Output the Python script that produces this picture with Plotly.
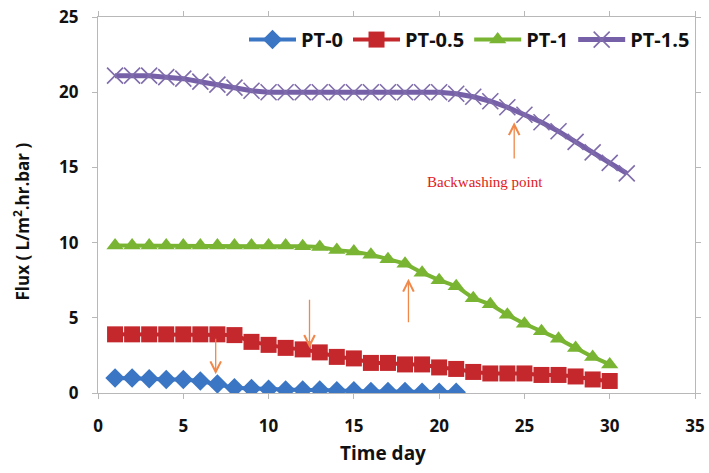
import plotly.graph_objects as go

days_pt0 = list(range(1, 22))
pt0 = [1.0, 1.0, 0.95, 0.9, 0.9, 0.8, 0.6, 0.35, 0.3, 0.25, 0.2, 0.2, 0.2, 0.15, 0.15,
       0.1, 0.1, 0.1, 0.05, 0.05, 0.05]

days_pt05 = list(range(1, 31))
pt05 = [3.9, 3.9, 3.9, 3.9, 3.9, 3.9, 3.9, 3.85, 3.4, 3.2, 3.0, 2.9, 2.7, 2.4, 2.3,
        2.0, 2.0, 1.9, 1.9, 1.7, 1.6, 1.4, 1.3, 1.3, 1.3, 1.2, 1.2, 1.1, 0.9, 0.8]

days_pt1 = list(range(1, 31))
pt1 = [9.8, 9.8, 9.8, 9.8, 9.8, 9.8, 9.8, 9.8, 9.8, 9.8, 9.8, 9.75, 9.7, 9.5, 9.4,
       9.2, 8.9, 8.6, 8.0, 7.5, 7.1, 6.3, 5.9, 5.2, 4.6, 4.1, 3.6, 3.0, 2.4, 1.9]

days_pt15 = list(range(1, 32))
pt15 = [21.1, 21.1, 21.1, 21.0, 20.9, 20.7, 20.5, 20.3, 20.1, 20.0, 20.0, 20.0, 20.0,
        20.0, 20.0, 20.0, 20.0, 20.0, 20.0, 20.0, 19.9, 19.7, 19.4, 19.0, 18.5, 18.0,
        17.4, 16.7, 16.0, 15.3, 14.6]

series_names = ["PT-0", "PT-0.5", "PT-1", "PT-1.5"]

# arrows: (x, tip y, tail y)
arrow_x = [6.9, 12.4, 18.2, 24.4]
arrow_tip = [1.25, 3.0, 7.6, 18.0]
arrow_tail = [3.7, 6.3, 4.6, 15.5]

x_ticks = [0, 5, 10, 15, 20, 25, 30, 35]
y_ticks = [0, 5, 10, 15, 20, 25]

FONT = "Open Sans"

fig = go.Figure()
fig.add_trace(go.Scatter(x=days_pt0, y=pt0, name=series_names[0], mode="lines+markers",
                         line=dict(color="#3a76c4", width=4),
                         marker=dict(symbol="diamond", size=15, color="#3a76c4")))
fig.add_trace(go.Scatter(x=days_pt05, y=pt05, name=series_names[1], mode="lines+markers",
                         line=dict(color="#c4272c", width=4),
                         marker=dict(symbol="square", size=16, color="#c4272c")))
fig.add_trace(go.Scatter(x=days_pt1, y=pt1, name=series_names[2], mode="lines+markers",
                         line=dict(color="#79b532", width=4),
                         marker=dict(symbol="triangle-up", size=15, color="#79b532")))
fig.add_trace(go.Scatter(x=days_pt15, y=pt15, name=series_names[3], mode="lines+markers",
                         line=dict(color="#7660a8", width=5),
                         marker=dict(symbol="x-thin", size=16, color="#7f6cab",
                                     line=dict(color="#7f6cab", width=1.6))))

for ax_, tip, tail in zip(arrow_x, arrow_tip, arrow_tail):
    fig.add_annotation(x=ax_, y=tip, ax=ax_, ay=tail, xref="x", yref="y",
                       axref="x", ayref="y", showarrow=True, arrowhead=5,
                       arrowsize=1.6, arrowwidth=1.3, arrowcolor="#f0884a", text="")

fig.add_annotation(x=22.7, y=14.0, xref="x", yref="y", text="Backwashing point",
                   showarrow=False, font=dict(family="Liberation Serif", size=15, color="#e0201c"))

fig.add_annotation(x=0.478, y=-0.16, xref="paper", yref="paper", text="Time day",
                   showarrow=False, yanchor="middle",
                   font=dict(family=FONT, size=19, color="#111111", weight="bold"))
fig.add_annotation(x=-0.128, y=0.455, xref="paper", yref="paper",
                   text="Flux ( L/m<sup>2</sup>.hr.bar )", textangle=-90,
                   showarrow=False, xanchor="center", yanchor="middle",
                   font=dict(family=FONT, size=17, color="#111111", weight="bold"))

axis_common = dict(showgrid=False, zeroline=False, showline=True, linecolor="#b8b8b8",
                   linewidth=1.2, mirror="ticks", ticks="outside", ticklen=5,
                   tickcolor="#b8b8b8", automargin=False,
                   tickfont=dict(family=FONT, size=17, color="#111111", weight="bold"))

fig.update_xaxes(range=[0, 35], tickvals=x_ticks, ticklabelstandoff=12, **axis_common)
fig.update_yaxes(range=[0, 25], tickvals=y_ticks, ticklabelstandoff=10, **axis_common)

fig.update_layout(
    width=709, height=473,
    margin=dict(l=98, r=14, t=17, b=80, autoexpand=False),
    plot_bgcolor="white", paper_bgcolor="white",
    legend=dict(orientation="h", x=1.0, xanchor="right", y=0.94, yanchor="middle",
                font=dict(family=FONT, size=20, color="#111111", weight="bold"),
                bgcolor="rgba(0,0,0,0)", itemwidth=47, tracegroupgap=0),
)

fig.write_html("out.html", config={"displayModeBar": False},
               post_script="document.body.style.margin='0';document.body.style.padding='0';")
